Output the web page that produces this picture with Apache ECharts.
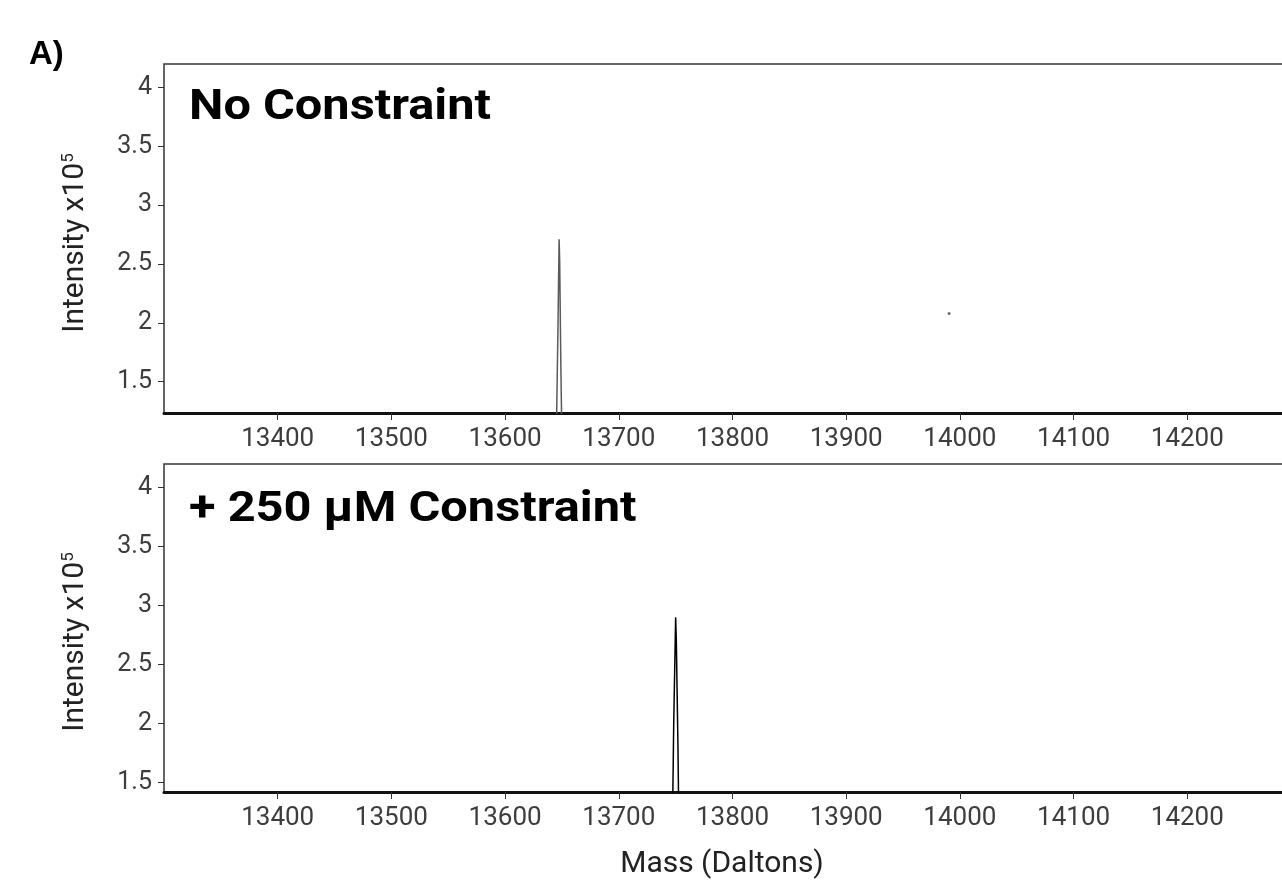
<!DOCTYPE html>
<html>
<head>
<meta charset="utf-8">
<title>Mass spectra</title>
<script src="https://cdn.jsdelivr.net/npm/echarts@6/dist/echarts.min.js"></script>
<style>
  html, body { margin: 0; padding: 0; background: #fff; overflow: hidden; }
  /* wider than the window: the plot boxes run off the right edge, as in the figure */
  #chart { width: 1320px; height: 880px; }
</style>
</head>
<body>
<div id="chart"></div>
<script>
// tick labels
const massTicks = [13400, 13500, 13600, 13700, 13800, 13900, 14000, 14100, 14200];
const intensityTicks = [1.5, 2, 2.5, 3, 3.5, 4];

// No Constraint spectrum (mass in Da, intensity x10^5)
const noConstraintMass = [13645.0, 13646.6, 13647.5, 13648.0, 13649.0, 13650.0];
const noConstraintIntensity = [1.0, 2.03, 2.71, 2.53, 1.66, 1.0];
// small isolated point in the top panel
const strayMass = [13990.5];
const strayIntensity = [2.08];

// + 250 uM Constraint spectrum
const constraintMass = [13747.0, 13748.3, 13750.0, 13750.6, 13752.0, 13753.0];
const constraintIntensity = [1.0, 2.0, 2.9, 2.7, 1.83, 1.0];

const pairs = (xs, ys) => xs.map((x, i) => [x, ys[i]]);

const tickColor = '#333';
const labelColor = '#3d3d3d';

function xAxisOf(gridIndex, withName) {
  return {
    type: 'value',
    gridIndex: gridIndex,
    min: 13300,
    max: 14300,
    interval: 100,
    splitLine: { show: false },
    axisLine: { show: true, onZero: false, lineStyle: { color: '#111', width: 3 } },
    axisTick: { show: true, length: 7, customValues: massTicks, lineStyle: { color: tickColor, width: 1 } },
    axisLabel: {
      customValues: massTicks,
      formatter: (v) => String(v), // no thousands separator
      margin: 13,
      color: labelColor,
      fontFamily: 'Roboto',
      fontSize: 26
    },
    name: withName ? 'Mass (Daltons)' : '',
    nameLocation: 'middle',
    nameGap: 57,
    nameTextStyle: { color: '#222', fontFamily: 'Roboto', fontSize: 30, padding: [0, 21, 0, 0] }
  };
}

function yAxisOf(gridIndex, min, shift) {
  return {
    type: 'value',
    gridIndex: gridIndex,
    min: min,
    max: 4.2,
    splitLine: { show: false },
    axisLine: { show: false },
    axisTick: { show: true, length: 6, customValues: intensityTicks, lineStyle: { color: tickColor, width: 1 } },
    axisLabel: {
      customValues: intensityTicks,
      formatter: (v) => String(v),
      margin: 12,
      color: labelColor,
      fontFamily: 'Roboto',
      fontSize: 25
    },
    name: '{a|Intensity x10}{s|5}',
    nameLocation: 'middle',
    nameRotate: 90,
    nameGap: 74,
    nameTextStyle: {
      padding: [0, shift, 0, 0],
      rich: {
        a: { color: '#222', fontFamily: 'Roboto', fontSize: 30 },
        s: { color: '#222', fontFamily: 'Roboto', fontSize: 17, verticalAlign: 'top' }
      }
    }
  };
}

const titleFont = 'bold 42px Roboto';

const options = {
  backgroundColor: '#fff',
  animation: false,
  graphic: [
    {
      type: 'text',
      left: 29,
      top: 38,
      style: { text: 'A)', fill: '#000', font: 'bold 33px "Liberation Sans"' }
    },
    // panel titles, a little wider than Roboto Bold
    {
      type: 'text',
      x: 189,
      y: 87,
      scaleX: 1.16,
      style: { text: 'No Constraint', fill: '#000', font: titleFont }
    },
    {
      type: 'text',
      x: 189,
      y: 489,
      scaleX: 1.16,
      style: { text: '+ 250 µM Constraint', fill: '#000', font: titleFont }
    }
  ],
  grid: [
    { left: 164, top: 64, width: 1137, height: 349, show: true, borderColor: '#333', borderWidth: 1.5, containLabel: false },
    { left: 164, top: 464, width: 1137, height: 328, show: true, borderColor: '#333', borderWidth: 1.5, containLabel: false }
  ],
  xAxis: [xAxisOf(0, false), xAxisOf(1, true)],
  yAxis: [yAxisOf(0, 1.234, 9), yAxisOf(1, 1.42, 28)],
  series: [
    {
      name: 'No Constraint',
      type: 'line',
      xAxisIndex: 0,
      yAxisIndex: 0,
      data: pairs(noConstraintMass, noConstraintIntensity),
      symbol: 'none',
      lineStyle: { color: '#5a5a5a', width: 1.5 },
      clip: true
    },
    {
      name: 'stray',
      type: 'scatter',
      xAxisIndex: 0,
      yAxisIndex: 0,
      data: pairs(strayMass, strayIntensity),
      symbolSize: 3,
      itemStyle: { color: '#444' }
    },
    {
      name: '+ 250 µM Constraint',
      type: 'line',
      xAxisIndex: 1,
      yAxisIndex: 1,
      data: pairs(constraintMass, constraintIntensity),
      symbol: 'none',
      lineStyle: { color: '#000', width: 1.5 },
      clip: true
    }
  ]
};

const chart = echarts.init(document.getElementById('chart'));
chart.setOption(options);
</script>
</body>
</html>
